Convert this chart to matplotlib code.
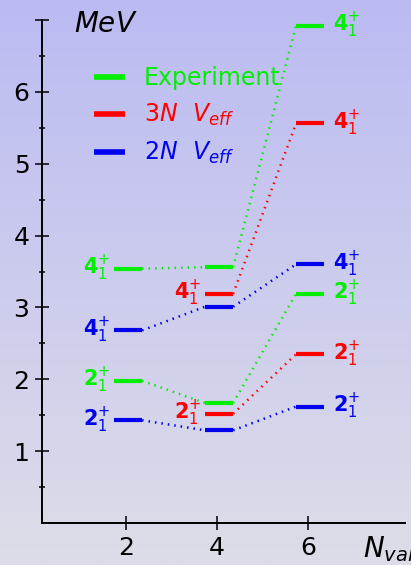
import numpy as np
import matplotlib.pyplot as plt

plt.rcParams['mathtext.fontset'] = 'dejavusans'

# valence nucleon numbers and level energies (MeV)
n_val = [2, 4, 6]
exp_2 = [1.98, 1.67, 3.19]
exp_4 = [3.54, 3.56, 6.92]
n_val_3n = [4, 6]
v3n_2 = [1.52, 2.35]
v3n_4 = [3.19, 5.56]
v2n_2 = [1.43, 1.29, 1.62]
v2n_4 = [2.68, 3.01, 3.60]

GREEN = '#00ee00'
RED = '#ff0000'
BLUE = '#0000ee'
lab2 = r'$\mathbf{2}_{1}^{+}$'
lab4 = r'$\mathbf{4}_{1}^{+}$'

fig = plt.figure(figsize=(4.11, 5.65), dpi=100)

# background gradient, lavender at the top fading to grey
bg = fig.add_axes([0, 0, 1, 1])
grad = np.linspace(0, 1, 256)[:, None]
top = np.array([187, 187, 243]) / 255
bot = np.array([221, 221, 232]) / 255
img = top[None, None, :] * (1 - grad[:, :, None]) + bot[None, None, :] * grad[:, :, None]
bg.imshow(img, aspect='auto', extent=[0, 1, 0, 1])
bg.axis('off')

ax = fig.add_axes([0.102, 0.0743, 0.883, 0.8903])
ax.patch.set_alpha(0)
ax.set_xlim(0.15, 8.12)
ax.set_ylim(0, 7)

L, R = 0.27, 0.35


def levels(xs, ys, color, label=None):
    for i, (x, y) in enumerate(zip(xs, ys)):
        ax.plot([x - L, x + R], [y, y], color=color, lw=3, solid_capstyle='butt',
                label=label if i == 0 else None)
        if i + 1 < len(xs):
            ax.plot([x + R, xs[i + 1] - L], [y, ys[i + 1]], color=color, lw=1.8,
                    ls=(0, (0.6, 2.0)))


levels(n_val, exp_2, GREEN, 'Experiment')
levels(n_val, exp_4, GREEN)
levels(n_val_3n, v3n_2, RED, r'$3N\ \ V_{eff}$')
levels(n_val_3n, v3n_4, RED)
levels(n_val, v2n_2, BLUE, r'$2N\ \ V_{eff}$')
levels(n_val, v2n_4, BLUE)

# state labels
fs = 15
for ys, lab, col in [(exp_4, lab4, GREEN), (exp_2, lab2, GREEN),
                     (v2n_4, lab4, BLUE), (v2n_2, lab2, BLUE)]:
    ax.text(n_val[0] - L - 0.07, ys[0], lab, color=col, fontsize=fs, ha='right', va='center')
    ax.text(n_val[-1] + R + 0.2, ys[-1], lab, color=col, fontsize=fs, ha='left', va='center')
for ys, lab in [(v3n_4, lab4), (v3n_2, lab2)]:
    ax.text(n_val_3n[0] - L - 0.07, ys[0], lab, color=RED, fontsize=fs, ha='right', va='center')
    ax.text(n_val_3n[-1] + R + 0.2, ys[-1], lab, color=RED, fontsize=fs, ha='left', va='center')

leg = ax.legend(loc='upper left', bbox_to_anchor=(0.085, 0.95), frameon=False,
                fontsize=17, handlelength=1.3, handletextpad=0.8, labelspacing=0.5,
                labelcolor='linecolor')
for h in leg.legend_handles:
    h.set_linewidth(4)

for s in ['top', 'right']:
    ax.spines[s].set_visible(False)
for s in ['left', 'bottom']:
    ax.spines[s].set_linewidth(1.4)

ax.set_xticks(n_val)
ax.set_yticks(range(1, 8))
ax.set_yticklabels(['1', '2', '3', '4', '5', '6', ''])
ax.set_yticks(np.arange(0.5, 7, 1), minor=True)
ax.tick_params(axis='both', which='major', direction='inout', length=10, width=1.1,
               labelsize=18, pad=4)
ax.tick_params(axis='y', which='minor', direction='inout', length=5, width=1.1)

fig.text(0.18, 0.958, r'$MeV$', fontsize=20, ha='left', va='center')
fig.text(0.882, 0.028, r'$N_{val}$', fontsize=20, ha='left', va='center')

fig.savefig('out.png', dpi=100)
